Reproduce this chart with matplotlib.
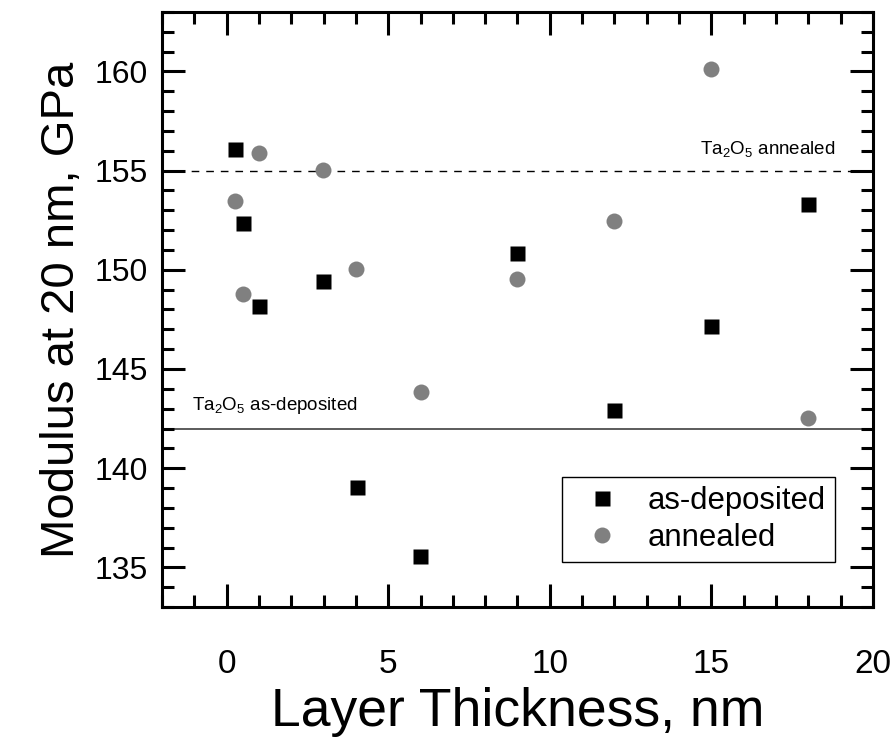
import numpy as np
import matplotlib
matplotlib.use('Agg')
import matplotlib.pyplot as plt
from matplotlib.ticker import MultipleLocator

plt.rcParams['font.family'] = ['Liberation Sans', 'DejaVu Sans']
plt.rcParams['mathtext.default'] = 'regular'

# as-deposited
x_dep = [0.27, 0.51, 1.01, 2.99, 4.02, 5.99, 9.0, 12.0, 15.0, 18.0]
y_dep = [156.07, 152.36, 148.18, 149.43, 139.07, 135.56, 150.86, 142.93, 147.18, 153.31]

# annealed
x_ann = [0.26, 0.51, 1.0, 2.99, 4.0, 6.0, 9.0, 12.0, 15.0, 18.0]
y_ann = [153.45, 148.77, 155.87, 155.03, 150.02, 143.84, 149.52, 152.44, 160.1, 142.55]

ref_annealed = 155.0
ref_deposited = 142.0

fig = plt.figure(figsize=(8.93, 7.39), dpi=100)
ax = fig.add_axes([0.1814, 0.1786, 0.7962, 0.8052])

ax.axhline(ref_annealed, color='black', lw=1.0, dashes=(5.5, 5), zorder=1)
ax.axhline(ref_deposited, color='#404040', lw=1.2, zorder=1)

ax.plot(x_dep, y_dep, 's', color='black', ms=10.8, mec='none', label='as-deposited', zorder=3)
ax.plot(x_ann, y_ann, 'o', color='#808080', ms=11.5, mec='none', label='annealed', zorder=3)

ax.text(18.83, 155.85, r'Ta$_2$O$_5$ annealed', fontsize=13.5, ha='right', va='baseline')
ax.text(-1.08, 142.91, r'Ta$_2$O$_5$ as-deposited', fontsize=13.5, ha='left', va='baseline')

ax.set_xlim(-2, 20)
ax.set_ylim(133, 163)
ax.xaxis.set_major_locator(MultipleLocator(5))
ax.xaxis.set_minor_locator(MultipleLocator(1))
ax.yaxis.set_major_locator(MultipleLocator(5))
ax.yaxis.set_minor_locator(MultipleLocator(1))

ax.tick_params(which='both', direction='in', top=True, right=True, width=2.2)
ax.tick_params(which='major', length=16.5)
ax.tick_params(which='minor', length=8.6)
ax.tick_params(axis='x', which='major', labelsize=24, pad=30)
ax.tick_params(axis='y', which='major', labelsize=23, pad=10)
for s in ax.spines.values():
    s.set_linewidth(2.2)

ax.set_xlabel('Layer Thickness, nm', fontsize=38.5, labelpad=5)
ax.set_ylabel('Modulus at 20 nm, GPa', fontsize=34, labelpad=8)

leg = ax.legend(loc='upper left', bbox_to_anchor=(0.5626, 0.2185), fontsize=22.4, frameon=True,
                fancybox=False, edgecolor='black', framealpha=1, borderpad=0.3,
                borderaxespad=0, handlelength=2.0, handletextpad=0.45,
                labelspacing=0.2, numpoints=1)
leg.get_frame().set_linewidth(1.0)

fig.savefig('out.png', dpi=100)
